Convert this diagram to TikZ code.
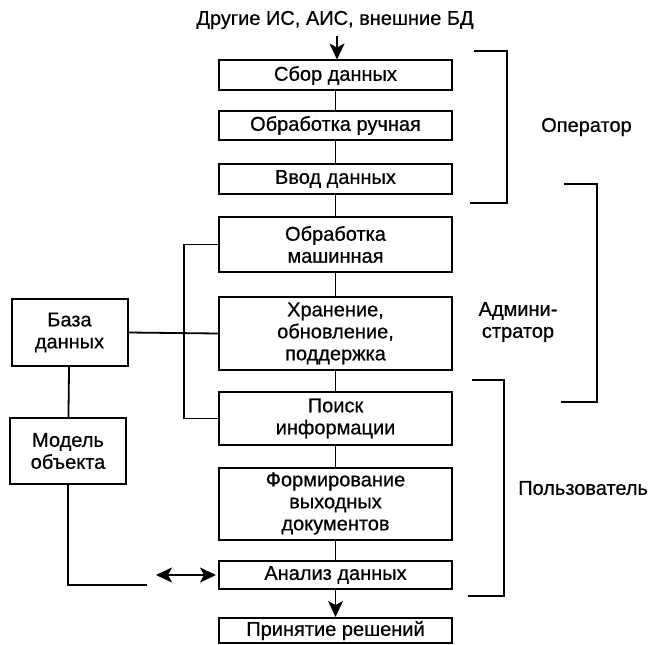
\documentclass[tikz,border=0pt]{standalone}
\usepackage{fontspec}
\setmainfont[FakeBold=0.6]{Liberation Sans}
\usetikzlibrary{arrows.meta}
\begin{document}
\begin{tikzpicture}[x=1pt,y=-1pt,
  every node/.style={font=\fontsize{20}{22}\selectfont},
  stage/.style={draw, line width=2pt, minimum width=233pt, inner sep=0pt, align=center},
  store/.style={draw, line width=2pt, minimum width=116pt, inner sep=0pt, align=center},
  link/.style={line width=1.8pt},
  head/.tip={Stealth[length=16pt,width=15pt,inset=4pt]},
  flow/.style={line width=1.8pt, -head},
  bracket/.style={line width=2pt},
  role/.style={align=center, inner sep=0pt}]
\useasboundingbox (0,0) rectangle (652,644);

% source of incoming data
\node (src) at (335,20) {Другие ИС, АИС, внешние БД};

% main processing chain
\node[stage, minimum height=30pt] (b1) at (335.5,75.5) {Сбор данных};
\node[stage, minimum height=29pt] (b2) at (335.5,125.5) {Обработка ручная};
\node[stage, minimum height=30pt] (b3) at (335.5,179) {Ввод данных};
\node[stage, minimum height=55pt] (b4) at (335.5,244.5) {Обработка\\машинная};
\node[stage, minimum height=73pt] (b5) at (335.5,333.5) {Хранение,\\обновление,\\поддержка};
\node[stage, minimum height=53pt] (b6) at (335.5,418.5) {Поиск\\информации};
\node[stage, minimum height=72pt] (b7) at (335.5,503.5) {Формирование\\выходных\\документов};
\node[stage, minimum height=28pt] (b8) at (335.5,575) {Анализ данных};
\node[stage, minimum height=25pt] (b9) at (335.5,630.5) {Принятие решений};

% database and object model
\node[store, minimum height=67pt] (db) at (69.5,332.5) {База\\данных};
\node[store, minimum height=66pt] (model) at (68,451) {Модель\\объекта};

% connectors
\coordinate (srcend) at (337,36);
\draw[flow] (srcend) -- (b1.north -| srcend);
\draw[link] (b1) -- (b2);
\draw[link] (b2) -- (b3);
\draw[link] (b3) -- (b4);
\draw[link] (b4) -- (b5);
\draw[link] (b5) -- (b6);
\draw[link] (b6) -- (b7);
\draw[link] (b7) -- (b8);
\draw[flow] (b8) -- (b9);

\draw[link] (db.east) -- (b5.west);
\draw[link] (b4.west) -- ++(-34,0) |- (b6.west);
\draw[link] (db) -- (model);

\coordinate (mend) at (147,585);
\draw[link] (model.south) |- (mend);
\coordinate (al) at (156,575);
\draw[line width=1.8pt, head-head] (al) -- ([xshift=-2pt]b8.west);

% role brackets
\draw[bracket] (474,51) -- (507,51) -- (507,203) -- (470,203);
\draw[bracket] (564,184) -- (597,184) -- (597,402) -- (561,402);
\draw[bracket] (472,380) -- (504,380) -- (504,596) -- (468,596);

\node[role, anchor=west] (op) at (541,127) {Оператор};
\node[role] (adm) at (518,322) {Админи-\\стратор};
\node[role, anchor=west] (usr) at (518,488) {Пользователь};
\end{tikzpicture}
\end{document}
